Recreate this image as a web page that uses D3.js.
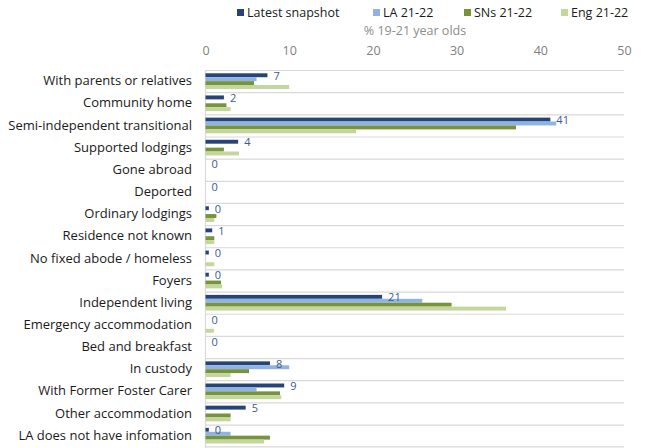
<!DOCTYPE html>
<html>
<head>
<meta charset="utf-8">
<script src="https://cdn.jsdelivr.net/npm/d3@7"></script>
<style>
  body { margin: 0; background: #fff; }
  svg { font-family: "Open Sans", "Noto Sans", sans-serif; }
</style>
</head>
<body>
<div id="container"></div>
<script>
const categories = [
    "With parents or relatives", "Community home", "Semi-independent transitional",
    "Supported lodgings", "Gone abroad", "Deported", "Ordinary lodgings",
    "Residence not known", "No fixed abode / homeless", "Foyers", "Independent living",
    "Emergency accommodation", "Bed and breakfast", "In custody",
    "With Former Foster Carer", "Other accommodation", "LA does not have infomation"
];
const seriesNames = ["Latest snapshot", "LA 21-22", "SNs 21-22", "Eng 21-22"];
const latest = [7.4, 2.2, 41.2, 3.9, 0, 0, 0.4, 0.8, 0.4, 0.4, 21.1, 0, 0, 7.7, 9.4, 4.8, 0.4];
const la     = [6.1, 0, 41.9, 0, 0, 0, 0, 0, 0, 0, 25.9, 0, 0, 10.0, 6.1, 0, 3.0];
const sns    = [5.8, 2.5, 37.1, 2.2, 0, 0, 1.3, 1.05, 0, 1.85, 29.4, 0, 0, 5.2, 8.9, 3.0, 7.7];
const eng    = [10.0, 3.0, 18.0, 4.0, 0, 0, 1.05, 1.05, 1.05, 2.0, 35.9, 1.0, 0, 3.0, 9.05, 3.0, 7.0];
const xTicks = [0, 10, 20, 30, 40, 50];

const w = 650, h = 448;
const colors = ["#264478", "#8FB4E3", "#77933C", "#C3D69B"];
const allSeries = [latest, la, sns, eng];

const svg = d3.select("#container").append("svg")
    .attr("width", w).attr("height", h);

const xScale = d3.scaleLinear().domain([0, 50]).range([205.5, 624]);
const yScale = d3.scaleBand().domain(categories).range([70, 446.7]);
const subScale = d3.scaleBand().domain(seriesNames)
    .range([3.3, yScale.bandwidth() - 3.2]);

// row separators
svg.append("g").selectAll("line")
    .data(categories)
    .enter().append("line")
    .attr("x1", xScale(0)).attr("x2", xScale(50))
    .attr("y1", d => yScale(d) + 0.5).attr("y2", d => yScale(d) + 0.5)
    .attr("stroke", "#D9D9D9").attr("stroke-width", 1.2);
svg.append("line")
    .attr("x1", xScale(0)).attr("x2", xScale(50))
    .attr("y1", 446.9).attr("y2", 446.9)
    .attr("stroke", "#D9D9D9").attr("stroke-width", 1.2);
svg.append("line")
    .attr("x1", xScale(0)).attr("x2", xScale(0))
    .attr("y1", 70).attr("y2", h)
    .attr("stroke", "#D9D9D9").attr("stroke-width", 1.2);

// bars
allSeries.forEach((vals, i) => {
    svg.append("g").selectAll("rect")
        .data(vals)
        .enter().append("rect")
        .attr("x", xScale(0))
        .attr("y", (d, j) => yScale(categories[j]) + subScale(seriesNames[i]))
        .attr("width", d => xScale(d) - xScale(0))
        .attr("height", subScale.bandwidth())
        .attr("fill", colors[i]);
});

// labels on latest snapshot
svg.append("g").selectAll("text")
    .data(latest)
    .enter().append("text")
    .attr("x", d => xScale(d) + 6)
    .attr("y", (d, j) => yScale(categories[j]) + subScale(seriesNames[0]) + subScale.bandwidth() / 2)
    .attr("dominant-baseline", "central")
    .attr("font-size", "11px")
    .attr("fill", "#3B5A8F")
    .text(d => d3.format(".0f")(d));

// category labels
const yAxis = d3.axisLeft(yScale).tickSize(0).tickPadding(13);
svg.append("g")
    .attr("transform", "translate(205,0)")
    .call(yAxis)
    .call(g => g.select(".domain").remove())
    .selectAll("text")
    .attr("font-family", "\"Open Sans\", sans-serif")
    .attr("font-size", "13px")
    .attr("fill", "#1a1a1a");

// x axis at the top
const xAxis = d3.axisTop(xScale).tickValues(xTicks).tickSize(0).tickPadding(0);
svg.append("g")
    .attr("transform", "translate(0,55)")
    .call(xAxis)
    .call(g => g.select(".domain").remove())
    .selectAll("text")
    .attr("font-family", "\"Open Sans\", sans-serif")
    .attr("font-size", "12.5px")
    .attr("fill", "#7f7f7f");

svg.append("text")
    .text("% 19-21 year olds")
    .attr("x", 415).attr("y", 35)
    .attr("text-anchor", "middle")
    .attr("font-size", "12.5px")
    .attr("fill", "#8c8c8c");

// legend
const legendX = [237, 373, 464, 561];
const legend = svg.append("g").attr("transform", "translate(0,13)");
seriesNames.forEach((name, i) => {
    const g = legend.append("g").attr("transform", "translate(" + legendX[i] + ",0)");
    g.append("rect").attr("x", 0).attr("y", -4).attr("width", 7).attr("height", 7).attr("fill", colors[i]);
    g.append("text").text(name).attr("x", 10).attr("y", 4)
        .attr("font-size", "12.5px").attr("fill", "#1a1a1a");
});
</script>
</body>
</html>
